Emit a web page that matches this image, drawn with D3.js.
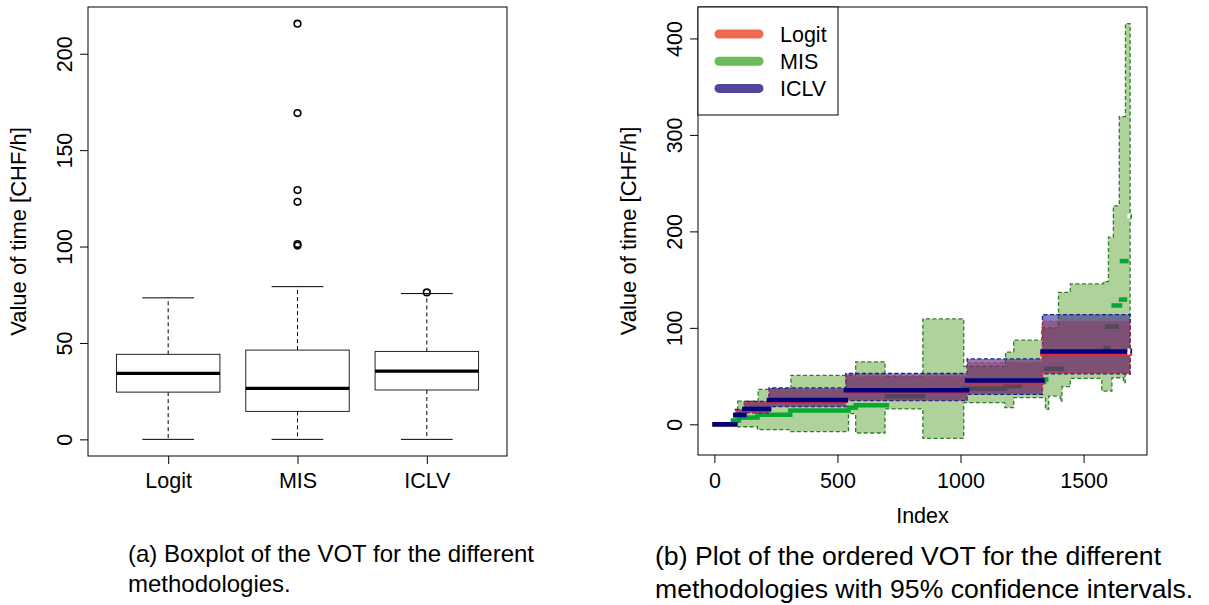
<!DOCTYPE html>
<html><head><meta charset="utf-8">
<script src="https://cdn.jsdelivr.net/npm/d3@7"></script>
<style>
body{margin:0;background:#fff}
text{font-family:"Liberation Sans", Arial, Helvetica, sans-serif; fill:#000}
</style>
</head><body>
<svg id="c" width="1209" height="605"></svg>
<script>
// ---------------- data: (a) boxplot ----------------
const categories   = ["Logit", "MIS", "ICLV"];
const whiskerLow   = [0, 0, 0];
const q1           = [24.5, 14.5, 25.6];
const medians      = [34.2, 26.4, 35.4];
const q3           = [44.1, 46.3, 45.6];
const whiskerHigh  = [73.4, 79.2, 75.6];
const outliers     = [[], [100.5, 101.3, 123.2, 129.3, 169.2, 215.6], [76.2]];
const boxTicks     = [0, 50, 100, 150, 200];

// ---------------- data: (b) ordered VOT ----------------
const nObs        = 1690;
const indexTicks  = [0, 500, 1000, 1500];
const votTicks    = [0, 100, 200, 300, 400];
const seriesNames = ["Logit", "MIS", "ICLV"];

// Logit / ICLV step segments (index ranges)
const segStart   = [1, 85, 122, 222, 534, 1027, 1333];
const segEnd     = [85, 122, 222, 534, 1027, 1333, 1678];
const iclvValue  = [0, 9.8, 16, 25.3, 35.2, 45.3, 75.5];
const iclvLower  = [0, 7, 12, 18.3, 24.5, 31, 52.4];
const iclvUpper  = [0, 15.5, 23.8, 37.7, 52.7, 67.8, 113.8];
const logitValue = [0, 9, 15, 24.4, 34.2, 43.6, 73];
const logitLower = [0, 7.5, 12.5, 19.3, 25.5, 32, 53.3];
const logitUpper = [0, 14.5, 22.5, 35.8, 49.3, 63.8, 106.8];

// MIS ordered values (index ranges)
const misStart = [1, 75, 100, 175, 308, 545, 574, 701, 847, 1013, 1183, 1240, 1340, 1348, 1412, 1590, 1595, 1622, 1652, 1656];
const misEnd   = [75, 100, 175, 308, 545, 574, 701, 847, 1013, 1183, 1240, 1340, 1348, 1412, 1560, 1600, 1634, 1648, 1668, 1674];
const misValue = [0, 4, 7, 10, 14.3, 17.3, 19.7, 29, 34.5, 36.8, 39.6, 44, 46.5, 57.6, 74, 79, 101.3, 123.2, 129.3, 169.2];

// MIS 95% CI as step functions (breakpoint index -> value until next breakpoint)
const misUpperAt  = [95, 178, 223, 311, 574, 693, 847, 1013, 1183, 1216, 1330, 1398, 1446, 1581, 1601, 1621, 1645, 1670, 1689];
const misUpperVal = [24, 36.2, 37, 50.7, 64.8, 50, 109.3, 60, 74.8, 87.2, 100, 136.8, 145.5, 148, 194, 226.5, 319, 415.4];
const misLowerAt  = [95, 175, 307, 545, 574, 693, 847, 1013, 1180, 1216, 1345, 1358, 1405, 1412, 1446, 1574, 1615, 1662, 1669, 1689];
const misLowerVal = [-2.5, -5.5, -7.5, 11, -9, 16, -14.6, 22.4, 17.3, 27.6, 15.5, 29.3, 24, 39, 47.6, 34.5, 48.3, 43.2, 52];

// last observation of each method (drawn apart)
const finalIndex  = 1691;
const finalValues = [73.4, 215.6, 76.2];   // Logit, MIS, ICLV

// ---------------- styles ----------------
const legendColors = ["#EE6A50", "#6BBB5C", "#54449A"];
const lineColors   = ["#E0283C", "#06A832", "#00007F"];
const bandFill     = ["rgba(158,38,62,0.4)", "rgba(95,165,55,0.5)", "rgba(55,45,150,0.6)"];
const bandStroke   = ["#C8324A", "#2E7D32", "#1A1A8A"];

const svg = d3.select("#c");
const pad = (lo, hi) => { const d = (hi - lo) * 0.04; return [lo - d, hi + d]; };
const TICK = 8, FS = 21.5;

// ======================= (a) boxplot =======================
const A = {x0: 88, x1: 507, y0: 7, y1: 456};
const xBox = d3.scaleLinear().domain(pad(0.5, 3.5)).range([A.x0, A.x1]);
const allBox = whiskerLow.concat(whiskerHigh, outliers.flat());
const yBox = d3.scaleLinear().domain(pad(d3.min(allBox), d3.max(allBox))).range([A.y1, A.y0]);
const ga = svg.append("g");
const half = xBox(1.4) - xBox(1), capHalf = xBox(1.2) - xBox(1);

categories.forEach((c, i) => {
  const cx = xBox(i + 1);
  const g = ga.append("g");
  // whiskers (dashed)
  g.append("line").attr("x1", cx).attr("x2", cx).attr("y1", yBox(q3[i])).attr("y2", yBox(whiskerHigh[i]))
    .attr("stroke", "#000").attr("stroke-width", 1).attr("stroke-dasharray", "4,3");
  g.append("line").attr("x1", cx).attr("x2", cx).attr("y1", yBox(q1[i])).attr("y2", yBox(whiskerLow[i]))
    .attr("stroke", "#000").attr("stroke-width", 1).attr("stroke-dasharray", "4,3");
  // caps
  [whiskerHigh[i], whiskerLow[i]].forEach(v => {
    g.append("line").attr("x1", cx - capHalf).attr("x2", cx + capHalf).attr("y1", yBox(v)).attr("y2", yBox(v))
      .attr("stroke", "#000").attr("stroke-width", 1);
  });
  // box
  g.append("rect").attr("x", cx - half).attr("width", 2 * half)
    .attr("y", yBox(q3[i])).attr("height", yBox(q1[i]) - yBox(q3[i]))
    .attr("fill", "#fff").attr("stroke", "#222").attr("stroke-width", 1);
  // median
  g.append("line").attr("x1", cx - half).attr("x2", cx + half).attr("y1", yBox(medians[i])).attr("y2", yBox(medians[i]))
    .attr("stroke", "#000").attr("stroke-width", 3.2);
  // outliers
  g.selectAll("circle").data(outliers[i]).join("circle")
    .attr("cx", cx).attr("cy", d => yBox(d)).attr("r", 3.3)
    .attr("fill", "none").attr("stroke", "#000").attr("stroke-width", 1.6);
});

// frame
ga.append("rect").attr("x", A.x0).attr("y", A.y0).attr("width", A.x1 - A.x0).attr("height", A.y1 - A.y0)
  .attr("fill", "none").attr("stroke", "#000").attr("stroke-width", 1);

// y axis
const ayA = ga.append("g").attr("transform", `translate(${A.x0},0)`)
  .call(d3.axisLeft(yBox).tickValues(boxTicks).tickSize(TICK).tickSizeOuter(0).tickFormat(d3.format("d")));
ayA.select(".domain").remove();
ayA.selectAll(".tick line").attr("stroke", "#000");
ayA.selectAll(".tick text").attr("x", null).attr("dy", null).attr("text-anchor", "middle")
  .attr("transform", "translate(-16,0) rotate(-90)")
  .style("font-family", "'Liberation Sans', Arial, sans-serif").style("font-size", FS + "px");
// x axis
const axA = ga.append("g").attr("transform", `translate(0,${A.y1})`)
  .call(d3.axisBottom(xBox).tickValues([1, 2, 3]).tickSize(TICK).tickSizeOuter(0).tickFormat(d => categories[d - 1]));
axA.select(".domain").remove();
axA.selectAll(".tick line").attr("stroke", "#000");
axA.selectAll(".tick text").attr("y", 31.5).attr("dy", null)
  .style("font-family", "'Liberation Sans', Arial, sans-serif").style("font-size", FS + "px");
// y title
ga.append("text").attr("transform", `translate(26,${(A.y0 + A.y1) / 2}) rotate(-90)`)
  .attr("text-anchor", "middle").style("font-size", "22px").text("Value of time [CHF/h]");

// ======================= (b) ordered VOT =======================
const B = {x0: 698, x1: 1147, y0: 7, y1: 455};
const xIdx = d3.scaleLinear().domain(pad(1, nObs)).range([B.x0, B.x1]);
const yMin = d3.min(misLowerVal.concat(iclvLower, logitLower));
const yMax = d3.max(misUpperVal.concat(iclvUpper, logitUpper, finalValues));
const yVot = d3.scaleLinear().domain(pad(yMin, yMax)).range([B.y1, B.y0]);
const gb = svg.append("g");
const clipB = svg.append("clipPath").attr("id", "clipB");
clipB.append("rect").attr("x", B.x0).attr("y", B.y0).attr("width", B.x1 - B.x0).attr("height", B.y1 - B.y0);
const plot = gb.append("g").attr("clip-path", "url(#clipB)");

const area = d3.area().x(d => xIdx(d.x)).y0(d => yVot(d.lo)).y1(d => yVot(d.hi)).curve(d3.curveStepAfter);

function stepFn(at, val) {
  return x => { let v = val[0]; for (let i = 0; i < val.length; i++) if (x >= at[i]) v = val[i]; return v; };
}
// MIS band
const up = stepFn(misUpperAt, misUpperVal), lo = stepFn(misLowerAt, misLowerVal);
const bp = Array.from(new Set(misUpperAt.concat(misLowerAt))).sort((a, b) => a - b);
const misBand = bp.map(x => ({x, lo: lo(x), hi: up(x)}));

function segBand(lower, upper) {
  const pts = [];
  segStart.forEach((s, i) => { if (upper[i] > lower[i]) pts.push({x: s, lo: lower[i], hi: upper[i]}); });
  const k = segStart.length - 1;
  pts.push({x: nObs - 1, lo: lower[k], hi: upper[k]});
  return pts;
}
const iclvBand = segBand(iclvLower, iclvUpper);
const logitBand = segBand(logitLower, logitUpper);

function drawSegs(starts, ends, vals, color) {
  plot.append("g").selectAll("line").data(vals).join("line")
    .attr("x1", (d, i) => xIdx(starts[i])).attr("x2", (d, i) => xIdx(ends[i]))
    .attr("y1", d => yVot(d)).attr("y2", d => yVot(d))
    .attr("stroke", color).attr("stroke-width", 4.5).attr("stroke-linecap", "square");
}

// MIS fill + border + line
plot.append("path").datum(misBand).attr("d", area).attr("fill", bandFill[1]);
plot.append("path").datum(misBand).attr("d", area).attr("fill", "none")
  .attr("stroke", bandStroke[1]).attr("stroke-width", 1.3).attr("stroke-dasharray", "4,2.5");
drawSegs(misStart, misEnd, misValue, lineColors[1]);
// ICLV and Logit fills
plot.append("path").datum(iclvBand).attr("d", area).attr("fill", bandFill[2]);
plot.append("path").datum(logitBand).attr("d", area).attr("fill", bandFill[0]);
plot.append("path").datum(iclvBand).attr("d", area).attr("fill", "none")
  .attr("stroke", bandStroke[2]).attr("stroke-width", 1.3).attr("stroke-dasharray", "4,2.5");
plot.append("path").datum(logitBand).attr("d", area).attr("fill", "none")
  .attr("stroke", bandStroke[0]).attr("stroke-width", 1.1).attr("stroke-dasharray", "4,2.5");
// Logit and ICLV lines
drawSegs(segStart, segEnd, logitValue, lineColors[0]);
drawSegs(segStart, segEnd, iclvValue, lineColors[2]);

// last observations: small gap, then a short mark
[1, 0, 2].forEach(k => {
  plot.append("line").attr("x1", xIdx(finalIndex - 13)).attr("x2", xIdx(finalIndex - 2))
    .attr("y1", yVot(finalValues[k])).attr("y2", yVot(finalValues[k]))
    .attr("stroke", "#fff").attr("stroke-width", k === 0 ? 2.5 : 4.5);
  plot.append("line").attr("x1", xIdx(finalIndex)).attr("x2", xIdx(finalIndex + 6))
    .attr("y1", yVot(finalValues[k])).attr("y2", yVot(finalValues[k]))
    .attr("stroke", lineColors[k]).attr("stroke-width", 4.5);
});

// frame
gb.append("rect").attr("x", B.x0).attr("y", B.y0).attr("width", B.x1 - B.x0).attr("height", B.y1 - B.y0)
  .attr("fill", "none").attr("stroke", "#000").attr("stroke-width", 1);
// axes
const ayB = gb.append("g").attr("transform", `translate(${B.x0},0)`)
  .call(d3.axisLeft(yVot).tickValues(votTicks).tickSize(TICK).tickSizeOuter(0).tickFormat(d3.format("d")));
ayB.select(".domain").remove();
ayB.selectAll(".tick line").attr("stroke", "#000");
ayB.selectAll(".tick text").attr("x", null).attr("dy", null).attr("text-anchor", "middle")
  .attr("transform", "translate(-16,0) rotate(-90)")
  .style("font-family", "'Liberation Sans', Arial, sans-serif").style("font-size", FS + "px");
const axB = gb.append("g").attr("transform", `translate(0,${B.y1})`)
  .call(d3.axisBottom(xIdx).tickValues(indexTicks).tickSize(TICK).tickSizeOuter(0).tickFormat(d3.format("d")));
axB.select(".domain").remove();
axB.selectAll(".tick line").attr("stroke", "#000");
axB.selectAll(".tick text").attr("y", 32.5).attr("dy", null)
  .style("font-family", "'Liberation Sans', Arial, sans-serif").style("font-size", FS + "px");
gb.append("text").attr("x", (B.x0 + B.x1) / 2).attr("y", 523).attr("text-anchor", "middle")
  .style("font-size", FS + "px").text("Index");
gb.append("text").attr("transform", `translate(636,${(B.y0 + B.y1) / 2}) rotate(-90)`)
  .attr("text-anchor", "middle").style("font-size", "22px").text("Value of time [CHF/h]");

// legend
const lg = gb.append("g").attr("transform", `translate(${B.x0},${B.y0})`);
lg.append("rect").attr("width", 140).attr("height", 108).attr("fill", "#fff").attr("stroke", "#000").attr("stroke-width", 1);
seriesNames.forEach((s, i) => {
  const cy = 27 + i * 27.2;
  lg.append("line").attr("x1", 21).attr("x2", 61).attr("y1", cy).attr("y2", cy)
    .attr("stroke", legendColors[i]).attr("stroke-width", 9).attr("stroke-linecap", "round");
  lg.append("text").attr("x", 82).attr("y", cy + 7.6).style("font-size", FS + "px").text(s);
});

// ======================= captions =======================
const capA = ["(a) Boxplot of the VOT for the different", "methodologies."];
const capB = ["(b) Plot of the ordered VOT for the different", "methodologies with 95% confidence intervals."];
capA.forEach((t, i) => svg.append("text").attr("x", 128).attr("y", 562 + i * 30).style("font-size", "24px").text(t));
capB.forEach((t, i) => svg.append("text").attr("x", 655).attr("y", 565 + i * 33).style("font-size", "26.6px").text(t));
</script>
</body></html>
